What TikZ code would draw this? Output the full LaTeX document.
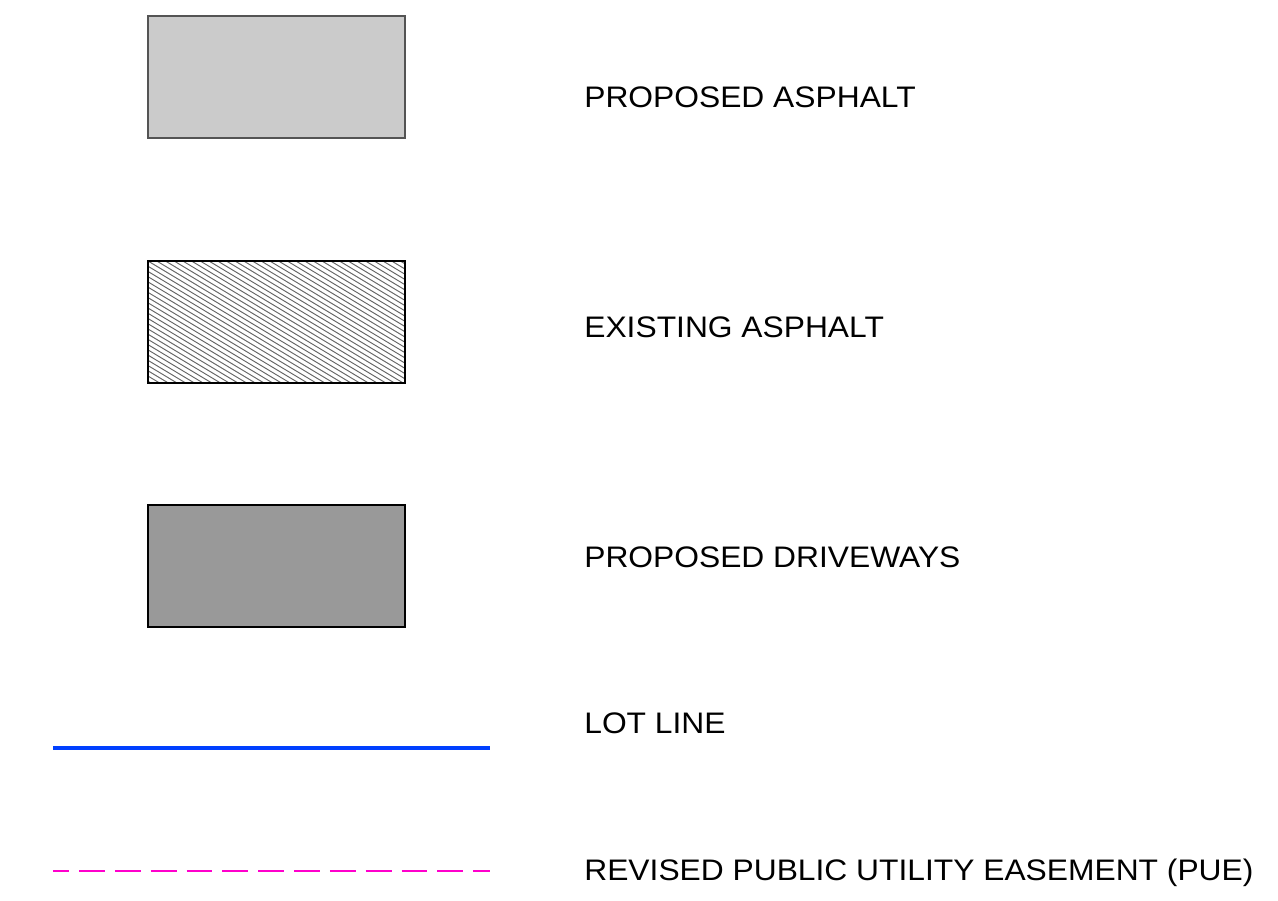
\documentclass[tikz,border=0pt]{standalone}
\usepackage{fontspec}
\newfontfamily\legendfont[FakeStretch=1.07]{Liberation Sans}
\definecolor{asphaltgray}{HTML}{CBCBCB}
\definecolor{drivegray}{HTML}{999999}
\definecolor{lotblue}{HTML}{0040FF}
\definecolor{puepink}{HTML}{FF00CC}

\begin{document}
\begin{tikzpicture}[
            x=0.02cm, y=-0.02cm,
            legendbox/.style={line width=1.15pt},
            label/.style={anchor=base west, inner sep=0pt, font=\legendfont\fontsize{16.9pt}{19pt}\selectfont},
            ]
            \useasboundingbox (0, 0) rectangle (1278, 901);
            % swatches
            \draw[legendbox, draw=black!67, fill=asphaltgray] (148, 16) rectangle (405, 138);
            \begin{scope}
                \clip (148, 261) rectangle (405, 383);
                \foreach \i in {-25,...,30}
                    \draw[black!60, line width=0.55pt] (148+\i*8.7, 261) -- ++(203, 122);
            \end{scope}
            \draw[legendbox] (148, 261) rectangle (405, 383);
            \draw[legendbox, fill=drivegray] (148, 505) rectangle (405, 627);
            \coordinate (lotA) at (53, 748);
            \coordinate (lotB) at (490, 748);
            \draw[lotblue, line width=2.8pt] (lotA) -- (lotB);
            \coordinate (pueA) at (53, 871);
            \coordinate (pueB) at (490, 871);
            \draw[puepink, line width=1.4pt, dash pattern=on 14.7pt off 5.7pt, dash phase=5.6pt] (pueA) -- (pueB);
            % labels
            \node[label] (asphaltnew) at (584, 107.3) {PROPOSED ASPHALT};
            \node[label] (asphaltold) at (584, 338) {EXISTING ASPHALT};
            \node[label] (driveways) at (584, 567.3) {PROPOSED DRIVEWAYS};
            \node[label] (lotline) at (584, 734) {LOT LINE};
            \node[label] (pue) at (584, 880.5) {REVISED PUBLIC UTILITY EASEMENT (PUE)};
        \end{tikzpicture}
\end{document}
